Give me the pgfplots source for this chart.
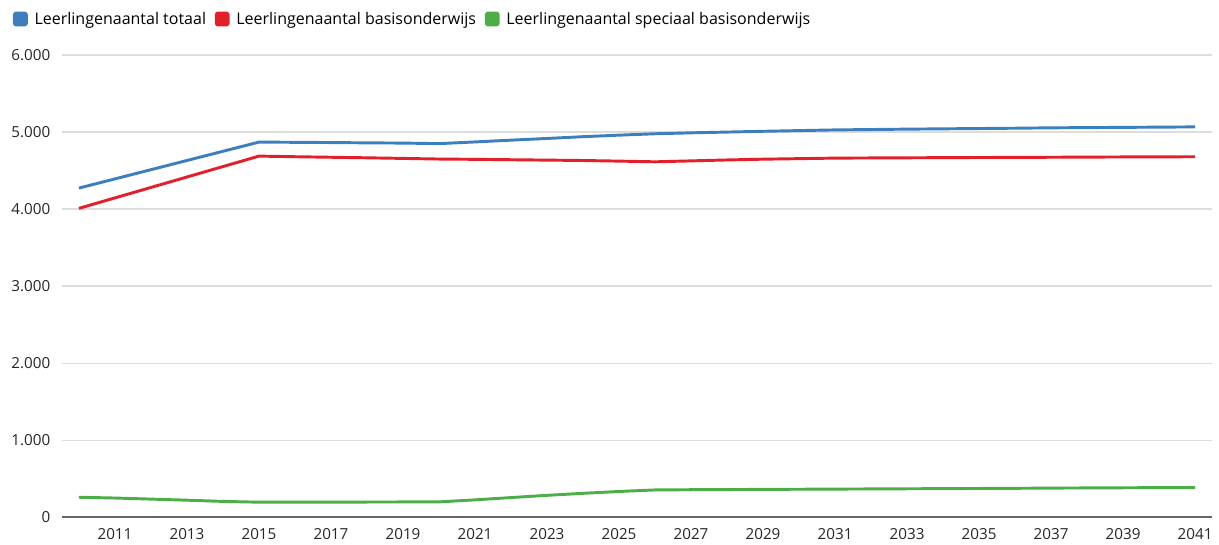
\documentclass[border=0pt]{standalone}
\usepackage{fontspec}
\setmainfont{Open Sans}
\usepackage{pgfplots}
\pgfplotsset{compat=1.18}
\definecolor{cblue}{HTML}{3D7EBF}
\definecolor{cred}{HTML}{E3202A}
\definecolor{cgreen}{HTML}{4BAE47}
\definecolor{cgrid}{HTML}{DDDDDD}
\definecolor{caxis}{HTML}{666666}
\begin{document}
\begin{tikzpicture}
\begin{axis}[
  name=main,
  scale only axis,
  width=862pt, height=346.5pt,
  xmin=2009.53, xmax=2041.47,
  ymin=0, ymax=6000,
  xtick={2011,2013,...,2041},
  ytick={0,1000,...,6000},
  major tick length=0pt,
  axis line style={draw=none},
  axis x line*=bottom,
  axis y line*=left,
  ymajorgrids,
  grid style={cgrid, line width=1pt},
  extra y ticks={0},
  extra y tick style={grid style={caxis,line width=1.5pt}},
  extra y tick labels={},
  font=\fontsize{11.4pt}{13pt}\selectfont,
  tick label style={black!85, font=\fontsize{11.4pt}{13pt}\selectfont},
  /pgf/number format/assume math mode=true,
  yticklabel style={/pgf/number format/1000 sep={.}},
  xticklabel style={/pgf/number format/1000 sep={}},
  yticklabel shift=5.3pt,
  xticklabel shift=5pt,
  legend columns=-1,
  legend style={at={(0,1)}, anchor=west, xshift=-37pt, yshift=27pt, draw=none, fill=none,
    inner sep=0pt, font=\fontsize{12pt}{14pt}\selectfont,
    /tikz/every even column/.append style={column sep=4.5pt}},
  legend image code/.code={\fill[rounded corners=1.5pt] (0pt,-4.5pt) rectangle (9pt,4.5pt);\path (12pt,0pt);},
  every axis plot/.append style={line width=2.2pt, line join=round},
]
\addplot[cblue] coordinates {
(2010,4273) (2015,4870) (2016,4867) (2017,4864) (2018,4860) (2019,4857) (2020,4850)
(2021,4872) (2022,4895) (2023,4917) (2024,4940) (2025,4960) (2026,4978) (2027,4990)
(2028,5000) (2029,5010) (2030,5019) (2031,5028) (2032,5033) (2033,5038) (2034,5042)
(2035,5046) (2036,5050) (2037,5055) (2038,5058) (2039,5061) (2040,5064) (2041,5067)};
\addlegendentry{Leerlingenaantal totaal}
\addplot[cred] coordinates {
(2010,4010) (2015,4688) (2016,4680) (2017,4673) (2018,4666) (2019,4658) (2020,4650)
(2021,4646) (2022,4641) (2023,4636) (2024,4631) (2025,4623) (2026,4614) (2027,4626)
(2028,4638) (2029,4648) (2030,4655) (2031,4662) (2032,4664) (2033,4666) (2034,4668)
(2035,4670) (2036,4671) (2037,4673) (2038,4675) (2039,4677) (2040,4678) (2041,4680)};
\addlegendentry{Leerlingenaantal basisonderwijs}
\addplot[cgreen] coordinates {
(2010,260) (2011,250) (2012,236) (2013,222) (2014,206) (2015,196) (2016,196) (2017,197)
(2018,198) (2019,199) (2020,200) (2021,226) (2022,256) (2023,285) (2024,311) (2025,335)
(2026,355) (2027,358) (2028,360) (2029,362) (2030,364) (2031,366) (2032,368) (2033,370)
(2034,372) (2035,374) (2036,376) (2037,379) (2038,381) (2039,383) (2040,385) (2041,386)};
\addlegendentry{Leerlingenaantal speciaal basisonderwijs}
\end{axis}
\path ([xshift=-46.5pt,yshift=-18.75pt]main.south west) ([xshift=5.25pt,yshift=41.25pt]main.north east);
\end{tikzpicture}
\end{document}
